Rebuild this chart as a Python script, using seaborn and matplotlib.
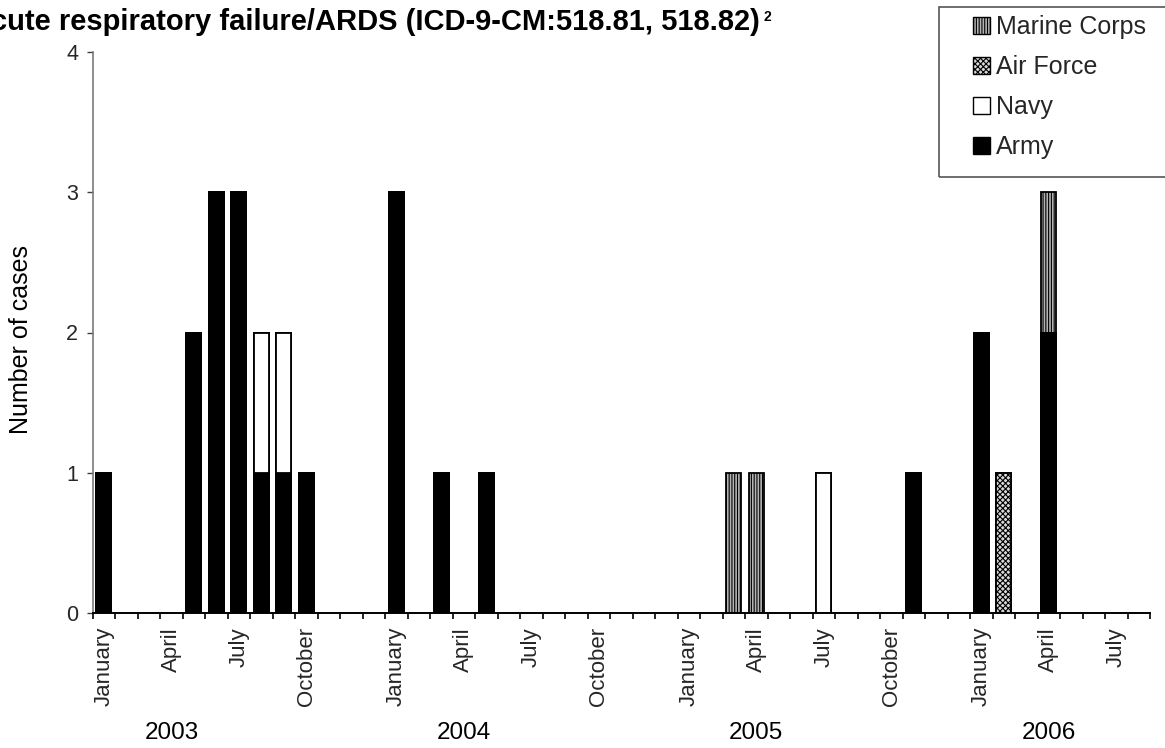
import numpy as np
import pandas as pd
import matplotlib
matplotlib.use("Agg")
import matplotlib.pyplot as plt
import matplotlib.transforms as mtransforms
from matplotlib.patches import Patch, Rectangle
import seaborn as sns

# ---------------- data ----------------
years = ["2003", "2004", "2005", "2006"]
months_in_year = [12, 12, 12, 8]
month_names = ["January", "February", "March", "April", "May", "June",
               "July", "August", "September", "October", "November", "December"]
labeled_months = [1, 4, 7, 10]   # months that carry a tick label

# monthly counts, Jan 2003 .. Aug 2006 (44 months)
army = [1, 0, 0, 0, 2, 3, 3, 1, 1, 1, 0, 0,
        3, 0, 1, 0, 1, 0, 0, 0, 0, 0, 0, 0,
        0, 0, 0, 0, 0, 0, 0, 0, 0, 0, 1, 0,
        2, 0, 0, 2, 0, 0, 0, 0]
navy = [0, 0, 0, 0, 0, 0, 0, 1, 1, 0, 0, 0,
        0, 0, 0, 0, 0, 0, 0, 0, 0, 0, 0, 0,
        0, 0, 0, 0, 0, 0, 1, 0, 0, 0, 0, 0,
        0, 0, 0, 0, 0, 0, 0, 0]
air_force = [0, 0, 0, 0, 0, 0, 0, 0, 0, 0, 0, 0,
             0, 0, 0, 0, 0, 0, 0, 0, 0, 0, 0, 0,
             0, 0, 0, 0, 0, 0, 0, 0, 0, 0, 0, 0,
             0, 1, 0, 0, 0, 0, 0, 0]
marine_corps = [0, 0, 0, 0, 0, 0, 0, 0, 0, 0, 0, 0,
                0, 0, 0, 0, 0, 0, 0, 0, 0, 0, 0, 0,
                0, 0, 1, 1, 0, 0, 0, 0, 0, 0, 0, 0,
                0, 0, 0, 1, 0, 0, 0, 0]

title = "Acute respiratory failure/ARDS (ICD-9-CM:518.81, 518.82)"
y_label = "Number of cases"

# ---------------- build table (one empty slot between years) ----------------
rows = []
k = 0
for yi, (yr, nm) in enumerate(zip(years, months_in_year)):
    for m in range(1, nm + 1):
        rows.append(dict(slot=f"{yr}-{m:02d}", army=army[k], navy=navy[k],
                         air_force=air_force[k], marine=marine_corps[k]))
        k += 1
    if yi < len(years) - 1:
        rows.append(dict(slot=f"{yr}-gap", army=0, navy=0, air_force=0, marine=0))
df = pd.DataFrame(rows)
slots = list(df["slot"])
df["c1"] = df["army"]
df["c2"] = df["c1"] + df["navy"]
df["c3"] = df["c2"] + df["air_force"]
df["c4"] = df["c3"] + df["marine"]

# ---------------- style ----------------
sns.set_theme(style="ticks")
plt.rcParams["font.family"] = ["Liberation Sans", "DejaVu Sans"]
plt.rcParams["hatch.linewidth"] = 0.8

fig = plt.figure(figsize=(11.65, 7.48), dpi=100)
ax = fig.add_axes([92.7 / 1165, 1 - 613 / 748, (1150 - 92.7) / 1165, (613 - 52) / 748])

layers = [
    ("c4", "#b4b4b4", "||||||", "Marine Corps"),
    ("c3", "#d8d8d8", "xxxxxx", "Air Force"),
    ("c2", "white", None, "Navy"),
    ("c1", "black", None, "Army"),
]
for col, colr, hatch, lab in layers:
    sub = df[df[col] > 0]
    sns.barplot(data=sub, x="slot", y=col, order=slots, color=colr, saturation=1,
                width=0.67, edgecolor="black", linewidth=1.3, hatch=hatch,
                errorbar=None, ax=ax)

n = len(slots)
ax.set_xlim(-0.5, n - 0.5)
ax.set_ylim(0, 4)
ax.set_yticks([0, 1, 2, 3, 4])
ax.set_xlabel("")
ax.set_ylabel(y_label, fontsize=18, color="black")
ax.yaxis.set_label_coords((33 - 92.7) / (1150 - 92.7), (613 - 340) / (613 - 52))

# x ticks: labels at selected months, marks at slot boundaries
maj_pos, maj_lab = [], []
for yr, nm in zip(years, months_in_year):
    for m in labeled_months:
        if m <= nm:
            maj_pos.append(slots.index(f"{yr}-{m:02d}"))
            maj_lab.append(month_names[m - 1])
ax.set_xticks(maj_pos)
ax.set_xticklabels(maj_lab, rotation=90, fontsize=16, va="top")
ax.set_xticks(np.arange(-0.5, n, 1.0), minor=True)
ax.tick_params(axis="x", which="major", length=0, pad=10)
ax.tick_params(axis="x", which="minor", length=4.5, width=1.2, color="black", direction="out")
ax.tick_params(axis="y", which="major", length=4.5, width=1.0, pad=6, labelsize=15.5,
               color="#404040", direction="out")

for s in ["top", "right"]:
    ax.spines[s].set_visible(False)
ax.spines["left"].set_color("#7a7a7a")
ax.spines["left"].set_linewidth(1.2)
ax.spines["bottom"].set_color("black")
ax.spines["bottom"].set_linewidth(1.4)
ax.grid(False)

# year labels under April of each year
tr = mtransforms.blended_transform_factory(ax.transData, fig.transFigure)
for yr in years:
    ax.text(slots.index(f"{yr}-04"), 1 - 739 / 748, yr, transform=tr,
            ha="center", va="baseline", fontsize=17.5, color="black")

# title (left part runs off the figure, as in the reference)
fig.text(760 / 1165, 1 - 30 / 748, title, ha="right", va="baseline",
         fontsize=21, fontweight="bold", color="black")
fig.text(763 / 1165, 1 - 21 / 748, "2", ha="left", va="baseline",
         fontsize=10, fontweight="bold", color="black")

# legend
handles = [Patch(facecolor=c, edgecolor="black", hatch=h, linewidth=1.0)
           for _, c, h, _ in layers]
labels = [lab for *_, lab in layers]
fig.legend(handles, labels, loc="upper left",
           bbox_to_anchor=(973 / 1165, 1 - 15 / 748),
           frameon=False, fontsize=18, handlelength=0.68, handleheight=0.68,
           handletextpad=0.25, labelspacing=0.64, borderpad=0, borderaxespad=0)
fig.add_artist(Rectangle((939 / 1165, 1 - 177 / 748), (1170 - 939) / 1165, (177 - 7) / 748,
                         transform=fig.transFigure, fill=False,
                         edgecolor="#555555", linewidth=1.2))

fig.savefig("out.png", dpi=100)
